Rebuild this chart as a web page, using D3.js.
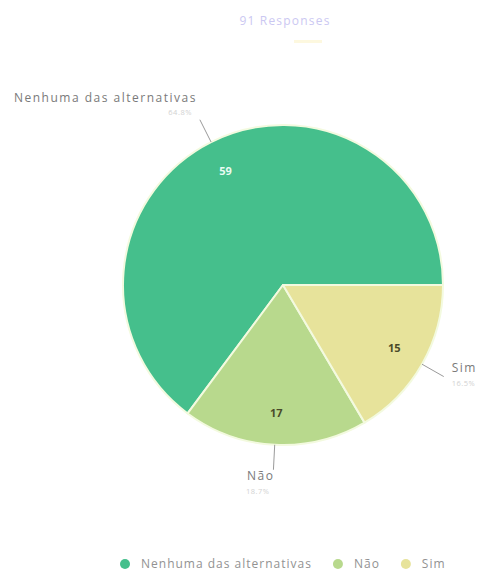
<!DOCTYPE html>
<html>
<head>
<meta charset="utf-8">
<script src="https://cdn.jsdelivr.net/npm/d3@7"></script>
<style>
  html, body { margin: 0; padding: 0; background: #ffffff; }
  svg { display: block; font-family: "Open Sans", "DejaVu Sans", sans-serif; }
</style>
</head>
<body>
<svg id="chart" width="480" height="573"></svg>
<script>
// ---- data ----
const categories = ["Nenhuma das alternativas", "Não", "Sim"];
const values = [59, 17, 15];
const colors = ["#45bf8c", "#b8d98d", "#e7e39b"];
const subtitle = "91 Responses";

// ---- layout ----
const cx = 283, cy = 285, R = 160;
const svg = d3.select("#chart");
const total = d3.sum(values);

// subtitle
svg.append("text")
  .attr("x", cx + 2).attr("y", 25)
  .attr("text-anchor", "middle")
  .attr("font-size", 12)
  .attr("letter-spacing", 1.2)
  .attr("fill", "#cbc8f2")
  .text(subtitle);
svg.append("rect")
  .attr("x", 294).attr("y", 40).attr("width", 28).attr("height", 3)
  .attr("fill", "#fdf8df");

const data = categories.map((c, i) => ({ cat: c, value: values[i], color: colors[i] }));

const pie = d3.pie()
  .sort(null)
  .value(d => d.value)
  .startAngle(Math.PI / 2)
  .endAngle(Math.PI / 2 - 2 * Math.PI);

const arcs = pie(data);
const arc = d3.arc().innerRadius(0).outerRadius(R);
const labelArc = d3.arc().innerRadius(R * 0.8).outerRadius(R * 0.8);

const g = svg.append("g").attr("transform", `translate(${cx},${cy})`);

g.selectAll("path.slice")
  .data(arcs)
  .join("path")
  .attr("class", "slice")
  .attr("d", arc)
  .attr("fill", d => d.data.color)
  .attr("stroke", "#f3fadf")
  .attr("stroke-width", 2)
  .attr("stroke-linejoin", "round");

// inside values
g.selectAll("text.val")
  .data(arcs)
  .join("text")
  .attr("class", "val")
  .attr("transform", d => `translate(${labelArc.centroid(d)})`)
  .attr("text-anchor", "middle")
  .attr("dy", "0.35em")
  .attr("font-size", 11)
  .attr("font-weight", 700)
  .attr("fill", (d, i) => i === 0 ? "#e9fbf2" : "#4a4a2a")
  .text(d => d.data.value);

// outer labels
const fmt = d3.format(".1f");
arcs.forEach(d => {
  const mid = (d.startAngle + d.endAngle) / 2;
  const sx = Math.sin(mid), sy = -Math.cos(mid);
  const p0 = [sx * R, sy * R];
  const rEnd = 185;
  const p1 = [sx * rEnd, sy * rEnd];
  g.append("line")
    .attr("x1", p0[0]).attr("y1", p0[1])
    .attr("x2", p1[0]).attr("y2", p1[1])
    .attr("stroke", "#9a9a9a").attr("stroke-width", 1);
  const c = Math.cos(mid);
  let tx, ty1, ty2, anchor;
  if (c > 0.7) {          // top
    anchor = sx < 0 ? "end" : "start";
    tx = p1[0] + (sx < 0 ? -3 : 3);
    ty1 = p1[1] - 18; ty2 = p1[1] - 5;
  } else if (c < -0.7) {  // bottom
    anchor = sx < 0 ? "end" : "start";
    tx = p1[0] + 1;
    ty1 = p1[1] + 10; ty2 = p1[1] + 24;
  } else {                // side
    anchor = sx < 0 ? "end" : "start";
    tx = p1[0] + (sx < 0 ? -8 : 8);
    ty1 = p1[1] - 5; ty2 = p1[1] + 9;
  }
  g.append("text")
    .attr("x", tx).attr("y", ty1)
    .attr("text-anchor", anchor)
    .attr("font-size", 12)
    .attr("letter-spacing", 1.5)
    .attr("fill", "#7a7a7a")
    .text(d.data.cat);
  g.append("text")
    .attr("x", tx - (anchor === "end" ? 5 : 0)).attr("y", ty2)
    .attr("text-anchor", anchor)
    .attr("font-size", 7.5)
    .attr("letter-spacing", 0.5)
    .attr("fill", "#d2d2d2")
    .text(fmt(d.data.value / total * 100) + "%");
});

// legend
const legend = svg.append("g").attr("transform", "translate(0,564)");
let lx = 125;
data.forEach(d => {
  legend.append("circle").attr("cx", lx).attr("cy", 0).attr("r", 5).attr("fill", d.color);
  const t = legend.append("text")
    .attr("x", lx + 16).attr("y", 0)
    .attr("dy", "0.35em")
    .attr("font-size", 12)
    .attr("letter-spacing", 1)
    .attr("fill", "#929292")
    .text(d.cat);
  lx = lx + 16 + t.node().getComputedTextLength() + 26;
});
</script>
</body>
</html>
